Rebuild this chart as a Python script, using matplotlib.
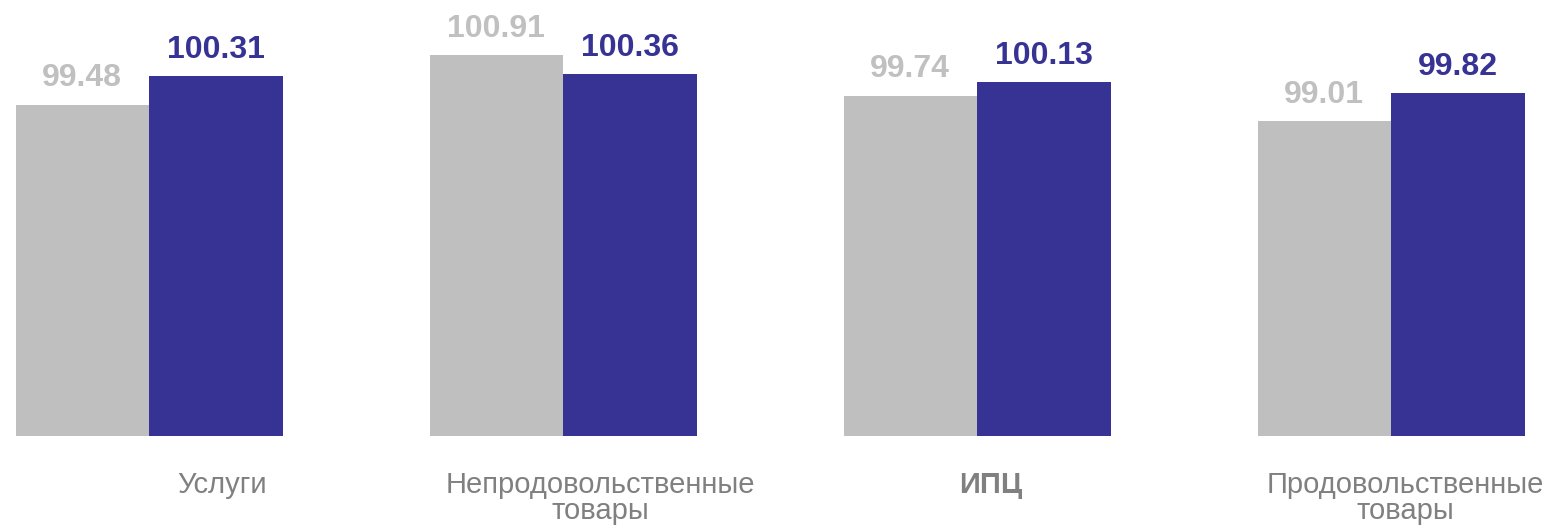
import numpy as np
import matplotlib
matplotlib.use("Agg")
from matplotlib import pyplot as plt

categories = ['Услуги', 'Непродовольственные\nтовары', 'ИПЦ', 'Продовольственные\nтовары']
prev_values = [99.48, 100.91, 99.74, 99.01]
curr_values = [100.31, 100.36, 100.13, 99.82]

# label shift to the right of each group centre (in category units)
label_shift = [0.176, 0.089, 0.034, 0.034]
label_bold = [False, False, True, False]

grey = '#bfbfbf'
grey_txt = '#c0c0c0'
blue = '#363394'
cat_color = '#808080'

plt.rcParams['font.family'] = ['Liberation Sans', 'DejaVu Sans']

fig = plt.figure(figsize=(15.55, 5.26), dpi=100)
ax = fig.add_axes([0, 90.5 / 526, 1, 435.5 / 526])

x = np.arange(len(categories))
w = 0.3225
bars_prev = ax.bar(x - w / 2, prev_values, width=w, color=grey, bottom=0)
bars_curr = ax.bar(x + w / 2, curr_values, width=w, color=blue, bottom=0)

ax.set_ylim(90, 102.49)
ax.set_xlim(-0.36, 3.396)
ax.axis('off')

for bar, v in zip(bars_prev, prev_values):
    ax.annotate(f'{v:.2f}', (bar.get_x() + bar.get_width() / 2, v),
                xytext=(0, 13.3), textcoords='offset points',
                ha='center', va='baseline', fontsize=23, fontweight='bold', color=grey_txt)
for bar, v in zip(bars_curr, curr_values):
    ax.annotate(f'{v:.2f}', (bar.get_x() + bar.get_width() / 2, v),
                xytext=(0, 13.3), textcoords='offset points',
                ha='center', va='baseline', fontsize=23, fontweight='bold', color=blue)

for i, (name, sh, b) in enumerate(zip(categories, label_shift, label_bold)):
    ax.text(i + sh, -0.082, name, transform=ax.get_xaxis_transform(),
            ha='center', va='top', multialignment='center', linespacing=0.9,
            fontsize=21, color=cat_color, fontweight='bold' if b else 'normal')

fig.savefig('out.png', dpi=100)
